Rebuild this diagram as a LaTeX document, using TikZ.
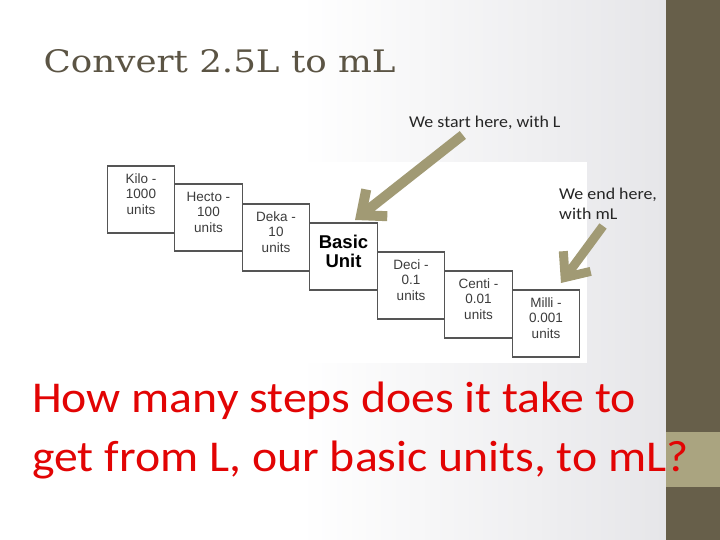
\documentclass[tikz,border=0pt]{standalone}
\usepackage{fontspec}
\usepackage{tikz}
\usetikzlibrary{positioning, arrows.meta}

\newfontfamily\slidefont[FakeStretch=1.085]{Carlito}
\newfontfamily\titlefont[FakeStretch=1.15]{DejaVu Serif}
\newfontfamily\chartfont{Liberation Sans}

\definecolor{titleolive}{RGB}{91,84,68}
\definecolor{barolive}{RGB}{103,95,74}
\definecolor{bandolive}{RGB}{170,164,128}
\definecolor{arrowolive}{RGB}{161,154,116}
\definecolor{bgshade}{RGB}{230,230,233}
\definecolor{boxgray}{RGB}{85,85,85}
\definecolor{boxtext}{RGB}{60,60,60}
\definecolor{notegray}{RGB}{38,38,38}
\definecolor{questionred}{RGB}{226,4,4}

\tikzset{
  unitbox/.style={draw=boxgray, line width=1.1pt, fill=white, minimum width=67.5pt,
    minimum height=67pt, inner sep=0pt, outer sep=0pt},
  unitlabel/.style={align=center, inner sep=0pt, text=boxtext,
    font=\chartfont\fontsize{13.5}{15.5}\selectfont},
  basiclabel/.style={unitlabel, text=black, font=\chartfont\bfseries\fontsize{18.5}{19}\selectfont},
  note/.style={inner sep=0pt, text=notegray, font=\slidefont\fontsize{16.5}{20}\selectfont},
  pointer/.style={draw=arrowolive, line width=10pt, -{Straight Barb[length=20pt, width=34pt]}},
}

\begin{document}
\begin{tikzpicture}[x=1pt, y=1pt]
  \useasboundingbox (0,0) rectangle (720,540);

  % Background
  \fill[white] (0,0) rectangle (300,540);
  \shade[left color=white, right color=bgshade] (300,0) rectangle (666,540);
  \fill[barolive] (666,0) rectangle (720,540);
  \fill[bandolive] (666,53) rectangle (720,108);
  \fill[white] (100,177) rectangle (587,378);

  % Title
  \node[anchor=base west, inner sep=0pt, text=titleolive,
    font=\titlefont\fontsize{31}{36}\selectfont] (title) at (43.5,467) {Convert 2.5L to mL};

  % Staircase of units
  \node[unitbox] (kilo) at (141,340.5) {};
  \node[unitbox, right=0pt of kilo.north east, anchor=north west, yshift=-18pt] (hecto) {};
  \node[unitbox, right=0pt of hecto.north east, anchor=north west, yshift=-20pt] (deka) {};
  \node[unitbox, right=0pt of deka.north east, anchor=north west, yshift=-19pt] (basic) {};
  \node[unitbox, right=0pt of basic.north east, anchor=north west, yshift=-29pt] (deci) {};
  \node[unitbox, right=0pt of deci.north east, anchor=north west, yshift=-19pt] (centi) {};
  \node[unitbox, right=0pt of centi.north east, anchor=north west, yshift=-19pt] (milli) {};

  \node[unitlabel, yshift=5.5pt] (kilotext) at (kilo) {Kilo -\\1000\\units};
  \node[unitlabel, yshift=5.5pt] (hectotext) at (hecto) {Hecto -\\100\\units};
  \node[unitlabel, yshift=5.5pt] (dekatext) at (deka) {Deka -\\10\\units};
  \node[basiclabel, yshift=5pt] (basictext) at (basic) {Basic\\Unit};
  \node[unitlabel, yshift=5.5pt] (decitext) at (deci) {Deci -\\0.1\\units};
  \node[unitlabel, yshift=5.5pt] (centitext) at (centi) {Centi -\\0.01\\units};
  \node[unitlabel, yshift=5.5pt] (millitext) at (milli) {Milli -\\0.001\\units};

  % Notes and arrows
  \node[note, anchor=base west] (starttext) at (409,412) {We start here, with L};
  \node[note, anchor=north west, align=left] (endtext) at (559,352) {We end here,\\with mL};

  \draw[pointer] ([xshift=-22pt, yshift=-7pt]starttext.base) -- ([xshift=11.5pt, yshift=3pt]basic.north);
  \draw[pointer, line width=9pt] ([xshift=-5pt, yshift=-6pt]endtext.south) -- ([xshift=15pt, yshift=7pt]milli.north);

  % Question
  \node[anchor=base west, align=left, inner sep=0pt, text=questionred,
    font=\slidefont\fontsize{44}{58.5}\selectfont] (question) at (32,68.5)
    {How many steps does it take to\\get from L, our basic units, to mL?};
\end{tikzpicture}
\end{document}
